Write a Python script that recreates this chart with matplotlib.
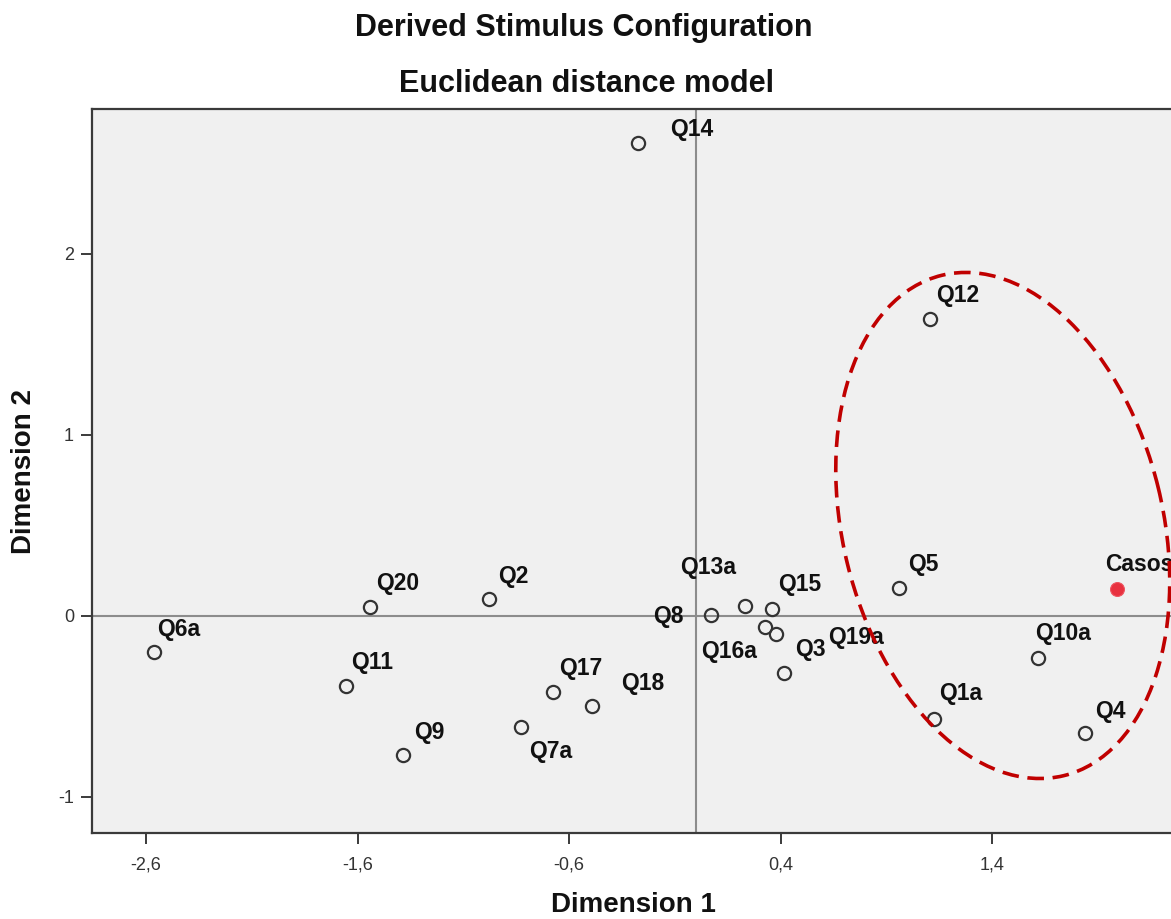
import numpy as np
import matplotlib.pyplot as plt
from matplotlib.patches import Ellipse
from matplotlib.transforms import ScaledTranslation

plt.rcParams['font.family'] = ['Liberation Sans', 'DejaVu Sans']

# --- Stimulus coordinates (Euclidean distance model) ----------------

names = ["Q1a", "Q2", "Q3", "Q4", "Q5", "Q6a", "Q7a", "Q8", "Q9", "Q10a",
         "Q11", "Q12", "Q13a", "Q14", "Q15", "Q16a", "Q17", "Q18", "Q19a", "Q20"]
dim1 = [1.125, -0.979, 0.416, 1.839, 0.960, -2.565, -0.830, 0.071, -1.385, 1.617,
        -1.653, 1.106, 0.232, -0.274, 0.359, 0.326, -0.678, -0.493, 0.378, -1.541]
dim2 = [-0.569, 0.094, -0.315, -0.646, 0.155, -0.199, -0.613, 0.006, -0.768, -0.232,
        -0.387, 1.641, 0.055, 2.613, 0.039, -0.061, -0.420, -0.497, -0.099, 0.050]

case_name = "Casos"
case_dim1 = 1.991
case_dim2 = 0.149

xticks = [-2.6, -1.6, -0.6, 0.4, 1.4]
xticklabels = ["-2,6", "-1,6", "-0,6", "0,4", "1,4"]
yticks = [-1, 0, 1, 2]
yticklabels = ["-1", "0", "1", "2"]

# label offsets in pixels: (dx, dy, alignment), dy measured upwards
offsets = {
    "Q1a": (5, 27, "left"), "Q2": (9, 24, "left"), "Q3": (11, 25, "left"),
    "Q4": (10, 23, "left"), "Q5": (9, 25, "left"), "Q6a": (4, 24, "left"),
    "Q7a": (9, -23, "left"), "Q8": (-27, 0, "right"), "Q9": (11, 24, "left"),
    "Q10a": (-3, 26, "left"), "Q11": (5, 25, "left"), "Q12": (6, 25, "left"),
    "Q13a": (-65, 40, "left"), "Q14": (32, 15, "left"), "Q15": (6, 26, "left"),
    "Q16a": (-8, -23, "right"), "Q17": (6, 25, "left"), "Q18": (29, 24, "left"),
    "Q19a": (52, -2, "left"), "Q20": (6, 25, "left"),
}

# --- Figure ---------------------------------------------------------

W, H = 1171, 919
fig = plt.figure(figsize=(W / 100, H / 100), dpi=100)
ax = fig.add_axes([92 / W, 1 - 833 / H, (1180 - 92) / W, (833 - 109) / H])
ax.set_facecolor("#f0f0f0")
ax.set_xlim(-2.856, 2.288)
ax.set_ylim(-1.199, 2.801)

ax.axhline(0, color="#8c8c8c", lw=1.5, zorder=1)
ax.axvline(0, color="#8c8c8c", lw=1.5, zorder=1)

ax.plot(dim1, dim2, "o", ms=9.5, mfc="none", mec="#333333", mew=1.6, zorder=3)
ax.plot([case_dim1], [case_dim2], "o", ms=10, mfc="#e8313f", mec="#ee5560", mew=0.8, zorder=3)

lbl = dict(fontsize=16.5, fontweight="bold", color="#111111", va="baseline")
for n, x, y in zip(names, dim1, dim2):
    dx, dy, ha = offsets[n]
    ax.annotate(n, (x, y), xytext=(dx, dy - 8), textcoords="offset pixels", ha=ha, **lbl)
ax.annotate(case_name, (case_dim1, case_dim2), xytext=(-12, 18),
            textcoords="offset pixels", ha="left", annotation_clip=False, **lbl)

# highlight ring round the right-hand group
ring = Ellipse((0, 0), 5.15, 3.20, angle=103.7, fill=False, ec="#c00000", lw=2.6,
               ls=(0, (4.6, 2.4)),
               transform=fig.dpi_scale_trans + ScaledTranslation(1.45, 0.50, ax.transData),
               zorder=4)
ax.add_patch(ring)

for s in ["left", "bottom", "top"]:
    ax.spines[s].set_color("#3a3a3a")
    ax.spines[s].set_linewidth(1.6)
ax.spines["right"].set_visible(False)

ax.set_xticks(xticks)
ax.set_xticklabels(xticklabels)
ax.set_yticks(yticks)
ax.set_yticklabels(yticklabels)
ax.tick_params(axis="both", direction="out", length=8, width=1.4, color="#3a3a3a",
               labelsize=13, labelcolor="#333333")
ax.tick_params(axis="x", pad=9)
ax.tick_params(axis="y", pad=5)

fig.text(584 / W, 1 - 28 / H, "Derived Stimulus Configuration", ha="center", va="center",
         fontsize=22, fontweight="bold", color="#111111")
fig.text(586 / W, 1 - 84 / H, "Euclidean distance model", ha="center", va="center",
         fontsize=22, fontweight="bold", color="#111111")
fig.text(633 / W, 1 - 905 / H, "Dimension 1", ha="center", va="center",
         fontsize=20, fontweight="bold", color="#111111")
fig.text(24 / W, 1 - 472 / H, "Dimension 2", ha="center", va="center", rotation=90,
         fontsize=20, fontweight="bold", color="#111111")

fig.savefig("out.png", dpi=100)
